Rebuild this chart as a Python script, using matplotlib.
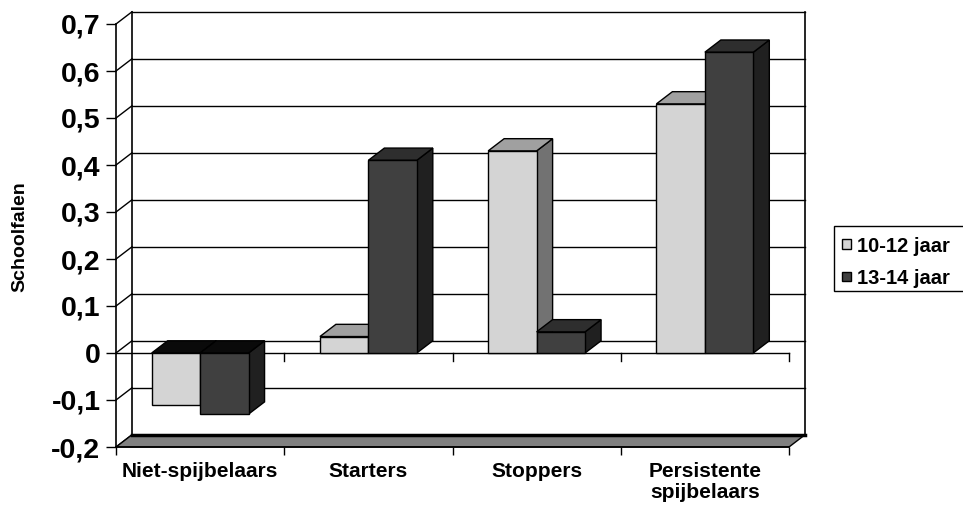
import matplotlib
matplotlib.use("Agg")
import matplotlib.pyplot as plt
from matplotlib.patches import Polygon, Rectangle

plt.rcParams['font.family'] = ['Liberation Sans', 'DejaVu Sans']
plt.rcParams['font.weight'] = 'bold'

categories = ["Niet-spijbelaars", "Starters", "Stoppers", "Persistente\nspijbelaars"]
series_names = ["10-12 jaar", "13-14 jaar"]
values_young = [-0.11, 0.035, 0.43, 0.53]
values_old = [-0.13, 0.41, 0.045, 0.64]
yticks = [-0.2, -0.1, 0.0, 0.1, 0.2, 0.3, 0.4, 0.5, 0.6, 0.7]
ytick_labels = ["-0,2", "-0,1", "0", "0,1", "0,2", "0,3", "0,4", "0,5", "0,6", "0,7"]

# face colours per series: front, top, side
faces = [
    dict(front="#d4d4d4", top="#a0a0a0", side="#727272", neg_top="#0a0a0a"),
    dict(front="#404040", top="#2e2e2e", side="#202020", neg_top="#0a0a0a"),
]

W, H = 963, 516
fig = plt.figure(figsize=(W / 100, H / 100), dpi=100)
ax = fig.add_axes([116 / W, (H - 447) / H, (789 - 116) / W, (447 - 24) / H])
ymin, ymax = -0.2, 0.7
xmin, xmax = -0.5, 3.5
ax.set_xlim(xmin, xmax)
ax.set_ylim(ymin, ymax)
ax.patch.set_visible(False)

# depth offset of the 3-D box (category units, value units)
dx, dy = 0.095, 0.026
bar_w = 0.288
lw = 1.0

def poly(pts, fc, z):
    p = Polygon(pts, closed=True, facecolor=fc, edgecolor="black",
                linewidth=lw, clip_on=False, zorder=z, joinstyle="miter")
    ax.add_patch(p)

# back wall and side wall grid
for v in yticks:
    ax.plot([xmin + dx, xmax + dx], [v + dy, v + dy], color="black", lw=1.0,
            clip_on=False, zorder=1)
    ax.plot([xmin, xmin + dx], [v, v + dy], color="black", lw=1.0,
            clip_on=False, zorder=1)
ax.plot([xmin + dx, xmin + dx], [ymin + dy, ymax + dy], color="black", lw=1.2,
        clip_on=False, zorder=1)
ax.plot([xmax + dx, xmax + dx], [ymin + dy, ymax + dy], color="black", lw=1.2,
        clip_on=False, zorder=1)

# floor
poly([(xmin, ymin), (xmax, ymin), (xmax + dx, ymin + dy), (xmin + dx, ymin + dy)],
     "#808080", 2)
ax.plot([xmin + dx, xmax + dx], [ymin + dy, ymin + dy], color="black", lw=2.5,
        clip_on=False, zorder=2.1)

# front zero line with category ticks
ax.plot([xmin, xmax], [0, 0], color="black", lw=1.0, clip_on=False, zorder=2)
for b in [0.5, 1.5, 2.5, 3.5]:
    ax.plot([b, b], [0, -0.017], color="black", lw=1.0, clip_on=False, zorder=2)

# bars
for s, vals in enumerate([values_young, values_old]):
    fc = faces[s]
    for i, v in enumerate(vals):
        x0 = i - bar_w + s * bar_w
        x1 = x0 + bar_w
        lo, hi = min(0, v), max(0, v)
        z = 3 + i * 0.1 + s * 0.05
        # side face
        poly([(x1, lo), (x1, hi), (x1 + dx, hi + dy), (x1 + dx, lo + dy)], fc["side"], z)
        # top face
        poly([(x0, hi), (x1, hi), (x1 + dx, hi + dy), (x0 + dx, hi + dy)],
             fc["top"] if v >= 0 else fc["neg_top"], z)
        # front face
        poly([(x0, lo), (x1, lo), (x1, hi), (x0, hi)], fc["front"], z)

# axes styling
for side in ["top", "right"]:
    ax.spines[side].set_visible(False)
ax.spines["left"].set_linewidth(1.2)
ax.spines["bottom"].set_linewidth(1.2)
ax.set_yticks(yticks)
ax.set_yticklabels(ytick_labels, fontsize=20.5, fontweight="bold")
ax.tick_params(axis="y", length=7.2, width=1.0, pad=4)
ax.set_xticks([-0.5, 0.5, 1.5, 2.5, 3.5])
ax.set_xticklabels([])
ax.tick_params(axis="x", which="major", length=5.8, width=1.0)
ax.set_xticks(range(len(categories)), minor=True)
ax.set_xticklabels(categories, minor=True, fontsize=15, fontweight="bold",
                   linespacing=1.1, va="top")
ax.tick_params(axis="x", which="minor", length=0, pad=11)

fig.text(20 / W, 1 - 237 / H, "Schoolfalen", rotation=90, fontsize=14,
         fontweight="bold", ha="center", va="center")

# legend box (runs off the right edge)
def fx(px):
    return px / W

def fy(py):
    return 1 - py / H

fig.patches.append(Rectangle((fx(834), fy(291)), fx(990) - fx(834), fy(226) - fy(291),
                             transform=fig.transFigure, facecolor="white",
                             edgecolor="black", linewidth=1.0, clip_on=False))
for k, (name, yc) in enumerate(zip(series_names, [244, 276])):
    fig.patches.append(Rectangle((fx(842), fy(yc + 4.5)), fx(851) - fx(842),
                                 fy(yc - 4.5) - fy(yc + 4.5),
                                 transform=fig.transFigure,
                                 facecolor=faces[k]["front"], edgecolor="black",
                                 linewidth=1.0))
    fig.text(fx(857), fy(yc), name, fontsize=14.5, fontweight="bold",
             ha="left", va="center_baseline")

fig.savefig("out.png", dpi=100)
